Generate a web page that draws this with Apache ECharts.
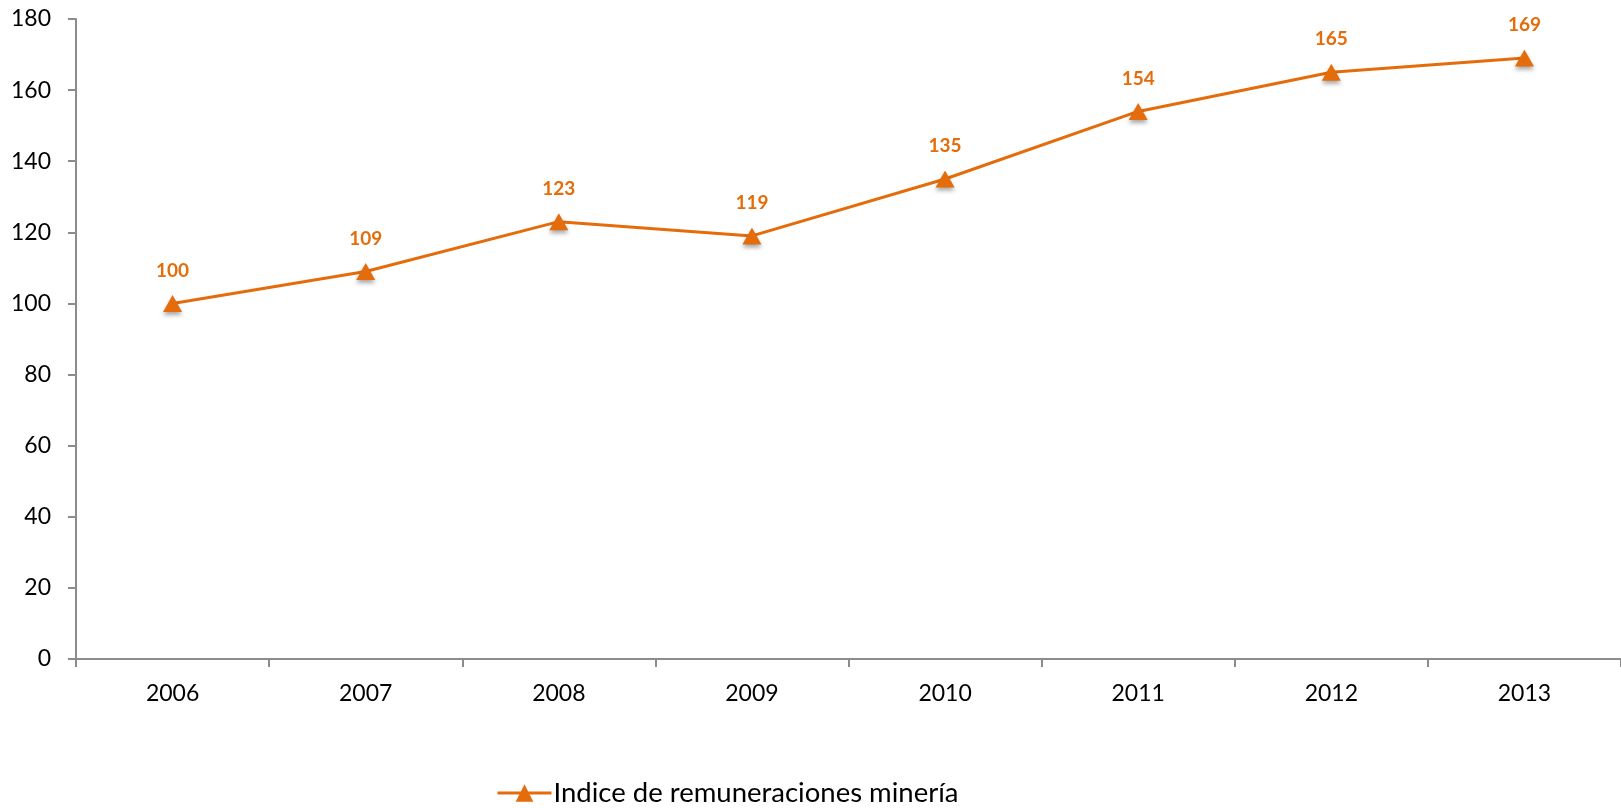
<!DOCTYPE html>
<html><head><meta charset="utf-8">
<script src="https://cdn.jsdelivr.net/npm/echarts@6/dist/echarts.min.js"></script>
<style>html,body{margin:0;padding:0;background:#fff}#c{width:1621px;height:808px}</style>
</head><body><div id="c"></div>
<script>
const years = ['2006','2007','2008','2009','2010','2011','2012','2013'];
const indice = [100,109,123,119,135,154,165,169];
const yTicks = [0,20,40,60,80,100,120,140,160,180];
const seriesName = 'Indice de remuneraciones minería';
const orange = '#E46C0A';
const chart = echarts.init(document.getElementById('c'));
chart.setOption({
  animation:false,
  textStyle:{fontFamily:'Lato, sans-serif'},
  grid:{left:76,right:0,top:19,bottom:149,containLabel:false},
  legend:{top:779,left:496,itemWidth:54,itemHeight:22,itemGap:0,padding:0,
    lineStyle:{width:3,color:orange},
    textStyle:{fontSize:27.5,color:'#000',fontFamily:'Lato',padding:[0,0,0,-3]},
    data:[seriesName]},
  xAxis:{type:'category',data:years,boundaryGap:true,
    axisLine:{lineStyle:{color:'#8c8c8c',width:2}},
    axisTick:{show:true,length:8,lineStyle:{color:'#8c8c8c',width:2}},
    axisLabel:{fontSize:23,color:'#000',margin:23}},
  yAxis:{type:'value',min:yTicks[0],max:yTicks[yTicks.length-1],interval:20,
    splitLine:{show:false},
    axisLine:{show:true,lineStyle:{color:'#8c8c8c',width:2}},
    axisTick:{show:true,length:8,lineStyle:{color:'#8c8c8c',width:2}},
    axisLabel:{fontSize:23,color:'#000',margin:25}},
  series:[{name:seriesName,type:'line',data:indice,
    lineStyle:{color:orange,width:3},
    itemStyle:{color:orange,shadowColor:'rgba(0,0,0,0.35)',shadowBlur:4,shadowOffsetY:3},
    symbol:'triangle',symbolSize:[19,17],
    label:{show:true,position:'top',distance:15,color:orange,fontWeight:'bold',fontSize:19}}]
});
</script></body></html>
